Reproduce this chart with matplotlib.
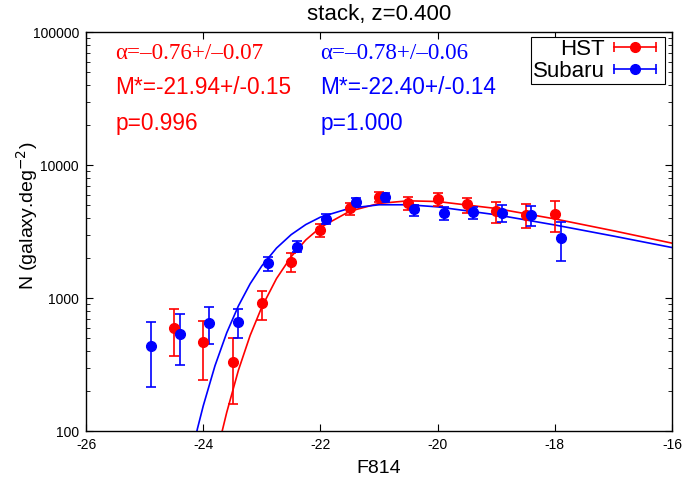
import numpy as np
import matplotlib
matplotlib.use("Agg")
import matplotlib.pyplot as plt
from matplotlib.lines import Line2D
from matplotlib.legend_handler import HandlerLine2D, HandlerTuple
from matplotlib.ticker import FixedLocator, FuncFormatter

plt.rcParams['font.family'] = ['Liberation Sans', 'DejaVu Sans']
plt.rcParams['axes.unicode_minus'] = False

# HST points (magnitude, N, lower and upper error bar ends)
hst_mag = [-24.5, -24.0, -23.5, -23.0, -22.5, -22.0, -21.5, -21.0, -20.5, -20.0, -19.5, -19.0, -18.5, -18.0]
hst_n = [598, 465, 332, 912, 1875, 3243, 4720, 5780, 5150, 5520, 5090, 4490, 4190, 4260]
hst_lo = [365, 242, 161, 687, 1578, 2890, 4227, 5250, 4590, 4920, 4400, 3660, 3340, 3150]
hst_hi = [826, 674, 498, 1135, 2168, 3623, 5150, 6310, 5710, 6120, 5670, 5250, 5070, 5330]

# Subaru points
sub_mag = [-24.9, -24.4, -23.9, -23.4, -22.9, -22.4, -21.9, -21.4, -20.9, -20.4, -19.9, -19.4, -18.9, -18.4, -17.9]
sub_n = [435, 533, 652, 660, 1823, 2433, 3925, 5270, 5780, 4650, 4400, 4460, 4350, 4210, 2810]
sub_lo = [214, 312, 449, 498, 1596, 2207, 3585, 4900, 5300, 4160, 3880, 3925, 3720, 3470, 1905]
sub_hi = [664, 763, 861, 826, 2048, 2686, 4285, 5700, 6200, 5000, 4860, 4860, 4980, 4920, 3710]

# fitted curves
hst_fit_mag = [-23.8, -23.7, -23.6, -23.4, -23.2, -23.0, -22.75, -22.5, -22.25, -22.0, -21.5, -21.0,
               -20.5, -20.0, -19.0, -18.0, -17.0, -16.0]
hst_fit_n = [57, 91, 138, 287, 524, 858, 1403, 2048, 2737, 3402, 4500, 5152,
             5388, 5322, 4717, 3938, 3208, 2588]
sub_fit_mag = [-24.3, -24.1, -24.0, -23.8, -23.6, -23.4, -23.2, -23.0, -22.75, -22.5, -22.25, -22.0,
               -21.5, -21.0, -20.5, -20.0, -19.0, -18.0, -17.0, -16.0]
sub_fit_n = [41, 104, 155, 310, 548, 874, 1281, 1748, 2377, 3000, 3573, 4063,
             4740, 5031, 5033, 4850, 4230, 3546, 2926, 2399]

hst_text = ["\u03b1=\u20130.76+/\u20130.07", "M*=-21.94+/-0.15", "p=0.996"]
sub_text = ["\u03b1=\u20130.78+/\u20130.06", "M*=-22.40+/-0.14", "p=1.000"]

fig = plt.figure(figsize=(6.83, 4.79), dpi=100)
ax = fig.add_axes([0.126, 0.100, 0.858, 0.833])

ax.plot(hst_fit_mag, hst_fit_n, color='red', lw=1.2)
ax.plot(sub_fit_mag, sub_fit_n, color='blue', lw=1.2)

for mag, n, lo, hi, c in [(hst_mag, hst_n, hst_lo, hst_hi, 'red'),
                          (sub_mag, sub_n, sub_lo, sub_hi, 'blue')]:
    n = np.array(n)
    err = [n - np.array(lo), np.array(hi) - n]
    ax.errorbar(mag, n, yerr=err, fmt='o', color=c, ms=7, capsize=3.3,
                elinewidth=1.2, capthick=1.2)

ax.set_yscale('log')
ax.set_xlim(-26, -16)
ax.set_ylim(100, 100000)
ax.xaxis.set_major_locator(FixedLocator(np.arange(-26, -15, 2)))
ax.xaxis.set_major_formatter(FuncFormatter(lambda v, p: '%d' % v))
ax.yaxis.set_major_formatter(FuncFormatter(lambda v, p: '%d' % round(v)))
ax.tick_params(which='both', direction='in', top=True, right=True, labelsize=10)
ax.tick_params(which='major', length=5, pad=5)
ax.tick_params(which='minor', length=3)
for s in ax.spines.values():
    s.set_linewidth(1.0)

ax.set_xlabel('F814', fontsize=14, labelpad=6)
ax.set_ylabel('N (galaxy.deg$^{-2}$)', fontsize=14)
ax.yaxis.set_label_coords(-0.078, 0.54)
ax.set_title('stack, z=0.400', fontsize=16, pad=9)

ys = [0.932, 0.845, 0.754]
for i in range(3):
    if i == 0:
        fam, fs = ['Liberation Serif', 'DejaVu Serif'], 16.6
    else:
        fam, fs = ['Liberation Sans', 'DejaVu Sans'], 16.3
    ax.text(0.0495, ys[i], hst_text[i], transform=ax.transAxes, color='red',
            fontsize=fs, family=fam, va='baseline')
    ax.text(0.400, ys[i], sub_text[i], transform=ax.transAxes, color='blue',
            fontsize=fs, family=fam, va='baseline')

# legend: horizontal bar with end caps and a dot, text first
handles = []
hmap = {}
for c in ['red', 'blue']:
    bar = Line2D([], [], color=c, lw=1.2, marker='|', ms=7, mew=1.2)
    dot = Line2D([], [], color=c, ls='none', marker='o', ms=7)
    hmap[bar] = HandlerLine2D(numpoints=2)
    hmap[dot] = HandlerLine2D(numpoints=1)
    handles.append((bar, dot))
hmap[tuple] = HandlerTuple(ndivide=1, pad=0)
leg = ax.legend(handles, ['HST', 'Subaru'], loc='upper right', bbox_to_anchor=(0.988, 0.988),
                borderaxespad=0, fontsize=16, markerfirst=False, handlelength=2.5,
                handletextpad=0.1, labelspacing=0.05, borderpad=0.1, fancybox=False,
                framealpha=1, edgecolor='black', handler_map=hmap)
leg.get_frame().set_linewidth(0.8)

fig.savefig('out.png', dpi=100)
